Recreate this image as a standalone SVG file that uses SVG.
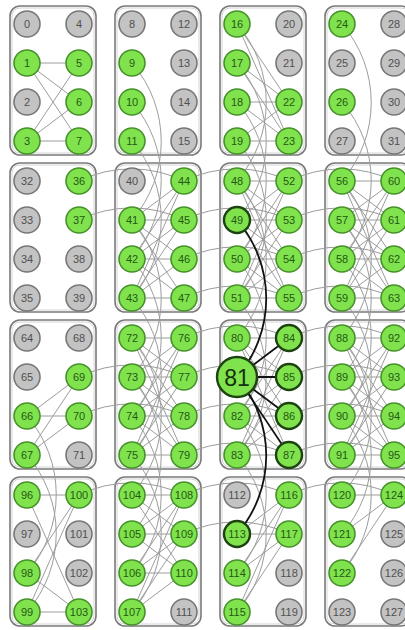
<svg xmlns="http://www.w3.org/2000/svg" width="405" height="630" viewBox="0 0 405 630">
<style>
.cell{fill:none;stroke:#7a7a7a;stroke-width:1.6}
.cell2{fill:none;stroke:#d4d4d4;stroke-width:1}
.e{fill:none;stroke:#9c9c9c;stroke-width:1}
.d{fill:none;stroke:#111;stroke-width:1.8}
.g circle{fill:#80e34e;stroke:#45922a;stroke-width:1.6}
.o circle{fill:#c3c3c3;stroke:#777;stroke-width:1.6}
.h circle{stroke:#1d4410;stroke-width:2.4}
text{font-family:"Liberation Sans",Arial,sans-serif;font-size:11px;text-anchor:middle;dominant-baseline:central}
.g text{fill:#245a12}
.o text{fill:#505050}
.big text{font-size:23px;fill:#14300c}
</style>
<defs>
<rect id="cb" width="86" height="149" rx="10"/>
<rect id="ci" width="82" height="145" rx="8"/>
</defs>
<rect width="405" height="630" fill="#fff"/>
<g id="cells">
<use href="#cb" class="cell" x="10" y="6"/><use href="#cb" class="cell" x="115" y="6"/><use href="#cb" class="cell" x="220" y="6"/><use href="#cb" class="cell" x="325" y="6"/>
<use href="#cb" class="cell" x="10" y="163"/><use href="#cb" class="cell" x="115" y="163"/><use href="#cb" class="cell" x="220" y="163"/><use href="#cb" class="cell" x="325" y="163"/>
<use href="#cb" class="cell" x="10" y="320"/><use href="#cb" class="cell" x="115" y="320"/><use href="#cb" class="cell" x="220" y="320"/><use href="#cb" class="cell" x="325" y="320"/>
<use href="#cb" class="cell" x="10" y="477"/><use href="#cb" class="cell" x="115" y="477"/><use href="#cb" class="cell" x="220" y="477"/><use href="#cb" class="cell" x="325" y="477"/>
<use href="#ci" class="cell2" x="12" y="8"/><use href="#ci" class="cell2" x="117" y="8"/><use href="#ci" class="cell2" x="222" y="8"/><use href="#ci" class="cell2" x="327" y="8"/>
<use href="#ci" class="cell2" x="12" y="165"/><use href="#ci" class="cell2" x="117" y="165"/><use href="#ci" class="cell2" x="222" y="165"/><use href="#ci" class="cell2" x="327" y="165"/>
<use href="#ci" class="cell2" x="12" y="322"/><use href="#ci" class="cell2" x="117" y="322"/><use href="#ci" class="cell2" x="222" y="322"/><use href="#ci" class="cell2" x="327" y="322"/>
<use href="#ci" class="cell2" x="12" y="479"/><use href="#ci" class="cell2" x="117" y="479"/><use href="#ci" class="cell2" x="222" y="479"/><use href="#ci" class="cell2" x="327" y="479"/>
</g>
<g id="connectors">
<path class="e" d="M27 63L79 63"/><path class="e" d="M27 63L79 102"/><path class="e" d="M27 63L79 141"/><path class="e" d="M27 141L79 63"/><path class="e" d="M27 141L79 102"/><path class="e" d="M27 141L79 141"/>
<path class="e" d="M237 24L289 102"/><path class="e" d="M237 24L289 141"/><path class="e" d="M237 63L289 102"/><path class="e" d="M237 63L289 141"/><path class="e" d="M237 102L289 102"/><path class="e" d="M237 102L289 141"/><path class="e" d="M237 141L289 102"/><path class="e" d="M237 141L289 141"/>
<path class="e" d="M132 220L184 181"/><path class="e" d="M132 220L184 220"/><path class="e" d="M132 220L184 259"/><path class="e" d="M132 220L184 298"/><path class="e" d="M132 259L184 181"/><path class="e" d="M132 259L184 220"/><path class="e" d="M132 259L184 259"/><path class="e" d="M132 259L184 298"/><path class="e" d="M132 298L184 181"/><path class="e" d="M132 298L184 220"/><path class="e" d="M132 298L184 259"/><path class="e" d="M132 298L184 298"/>
<path class="e" d="M237 181L289 181"/><path class="e" d="M237 181L289 220"/><path class="e" d="M237 181L289 259"/><path class="e" d="M237 181L289 298"/><path class="e" d="M237 220L289 181"/><path class="e" d="M237 220L289 220"/><path class="e" d="M237 220L289 259"/><path class="e" d="M237 220L289 298"/><path class="e" d="M237 259L289 181"/><path class="e" d="M237 259L289 220"/><path class="e" d="M237 259L289 259"/><path class="e" d="M237 259L289 298"/><path class="e" d="M237 298L289 181"/><path class="e" d="M237 298L289 220"/><path class="e" d="M237 298L289 259"/><path class="e" d="M237 298L289 298"/>
<path class="e" d="M342 181L394 181"/><path class="e" d="M342 181L394 220"/><path class="e" d="M342 181L394 259"/><path class="e" d="M342 181L394 298"/><path class="e" d="M342 220L394 181"/><path class="e" d="M342 220L394 220"/><path class="e" d="M342 220L394 259"/><path class="e" d="M342 220L394 298"/><path class="e" d="M342 259L394 181"/><path class="e" d="M342 259L394 220"/><path class="e" d="M342 259L394 259"/><path class="e" d="M342 259L394 298"/><path class="e" d="M342 298L394 181"/><path class="e" d="M342 298L394 220"/><path class="e" d="M342 298L394 259"/><path class="e" d="M342 298L394 298"/>
<path class="e" d="M27 416L79 377"/><path class="e" d="M27 416L79 416"/><path class="e" d="M27 455L79 377"/><path class="e" d="M27 455L79 416"/>
<path class="e" d="M132 338L184 338"/><path class="e" d="M132 338L184 377"/><path class="e" d="M132 338L184 416"/><path class="e" d="M132 338L184 455"/><path class="e" d="M132 377L184 338"/><path class="e" d="M132 377L184 377"/><path class="e" d="M132 377L184 416"/><path class="e" d="M132 377L184 455"/><path class="e" d="M132 416L184 338"/><path class="e" d="M132 416L184 377"/><path class="e" d="M132 416L184 416"/><path class="e" d="M132 416L184 455"/><path class="e" d="M132 455L184 338"/><path class="e" d="M132 455L184 377"/><path class="e" d="M132 455L184 416"/><path class="e" d="M132 455L184 455"/>
<path class="e" d="M237 338L289 338"/><path class="e" d="M237 338L289 377"/><path class="e" d="M237 338L289 416"/><path class="e" d="M237 338L289 455"/><path class="e" d="M237 416L289 338"/><path class="e" d="M237 416L289 377"/><path class="e" d="M237 416L289 416"/><path class="e" d="M237 416L289 455"/><path class="e" d="M237 455L289 338"/><path class="e" d="M237 455L289 377"/><path class="e" d="M237 455L289 416"/><path class="e" d="M237 455L289 455"/>
<path class="e" d="M342 338L394 338"/><path class="e" d="M342 338L394 377"/><path class="e" d="M342 338L394 416"/><path class="e" d="M342 338L394 455"/><path class="e" d="M342 377L394 338"/><path class="e" d="M342 377L394 377"/><path class="e" d="M342 377L394 416"/><path class="e" d="M342 377L394 455"/><path class="e" d="M342 416L394 338"/><path class="e" d="M342 416L394 377"/><path class="e" d="M342 416L394 416"/><path class="e" d="M342 416L394 455"/><path class="e" d="M342 455L394 338"/><path class="e" d="M342 455L394 377"/><path class="e" d="M342 455L394 416"/><path class="e" d="M342 455L394 455"/>
<path class="e" d="M27 495L79 495"/><path class="e" d="M27 495L79 612"/><path class="e" d="M27 573L79 495"/><path class="e" d="M27 573L79 612"/><path class="e" d="M27 612L79 495"/><path class="e" d="M27 612L79 612"/>
<path class="e" d="M132 495L184 495"/><path class="e" d="M132 495L184 534"/><path class="e" d="M132 495L184 573"/><path class="e" d="M132 534L184 495"/><path class="e" d="M132 534L184 534"/><path class="e" d="M132 534L184 573"/><path class="e" d="M132 573L184 495"/><path class="e" d="M132 573L184 534"/><path class="e" d="M132 573L184 573"/><path class="e" d="M132 612L184 495"/><path class="e" d="M132 612L184 534"/><path class="e" d="M132 612L184 573"/>
<path class="e" d="M237 534L289 495"/><path class="e" d="M237 534L289 534"/><path class="e" d="M237 573L289 495"/><path class="e" d="M237 573L289 534"/><path class="e" d="M237 612L289 495"/><path class="e" d="M237 612L289 534"/>
<path class="e" d="M342 495L394 495"/><path class="e" d="M342 534L394 495"/><path class="e" d="M342 573L394 495"/>
<path class="e" d="M132 63A120 120 0 0 1 132 220"/><path class="e" d="M132 102A120 120 0 0 1 132 259"/><path class="e" d="M132 141A120 120 0 0 1 132 298"/>
<path class="e" d="M237 24A120 120 0 0 1 237 181"/><path class="e" d="M237 63A120 120 0 0 1 237 220"/><path class="e" d="M237 102A120 120 0 0 1 237 259"/><path class="e" d="M237 141A120 120 0 0 1 237 298"/>
<path class="e" d="M342 24A120 120 0 0 1 342 181"/><path class="e" d="M342 102A120 120 0 0 1 342 259"/>
<path class="e" d="M132 220A120 120 0 0 1 132 377"/><path class="e" d="M132 259A120 120 0 0 1 132 416"/><path class="e" d="M132 298A120 120 0 0 1 132 455"/>
<path class="e" d="M237 181A120 120 0 0 1 237 338"/><path class="e" d="M237 259A120 120 0 0 1 237 416"/><path class="e" d="M237 298A120 120 0 0 1 237 455"/>
<path class="e" d="M342 181A120 120 0 0 1 342 338"/><path class="e" d="M342 220A120 120 0 0 1 342 377"/><path class="e" d="M342 259A120 120 0 0 1 342 416"/><path class="e" d="M342 298A120 120 0 0 1 342 455"/>
<path class="e" d="M27 416A120 120 0 0 1 27 573"/><path class="e" d="M27 455A120 120 0 0 1 27 612"/>
<path class="e" d="M132 338A120 120 0 0 1 132 495"/><path class="e" d="M132 377A120 120 0 0 1 132 534"/><path class="e" d="M132 416A120 120 0 0 1 132 573"/><path class="e" d="M132 455A120 120 0 0 1 132 612"/>
<path class="e" d="M237 416A120 120 0 0 1 237 573"/><path class="e" d="M237 455A120 120 0 0 1 237 612"/>
<path class="e" d="M342 338A120 120 0 0 1 342 495"/><path class="e" d="M342 377A120 120 0 0 1 342 534"/><path class="e" d="M342 416A120 120 0 0 1 342 573"/>
<path class="e" d="M79 181A120 120 0 0 1 184 181"/><path class="e" d="M79 220A120 120 0 0 1 184 220"/>
<path class="e" d="M184 181A120 120 0 0 1 289 181"/><path class="e" d="M184 220A120 120 0 0 1 289 220"/><path class="e" d="M184 259A120 120 0 0 1 289 259"/><path class="e" d="M184 298A120 120 0 0 1 289 298"/>
<path class="e" d="M289 181A120 120 0 0 1 394 181"/><path class="e" d="M289 220A120 120 0 0 1 394 220"/><path class="e" d="M289 259A120 120 0 0 1 394 259"/><path class="e" d="M289 298A120 120 0 0 1 394 298"/>
<path class="e" d="M79 377A120 120 0 0 1 184 377"/><path class="e" d="M79 416A120 120 0 0 1 184 416"/>
<path class="e" d="M184 338A120 120 0 0 1 289 338"/><path class="e" d="M184 377A120 120 0 0 1 289 377"/><path class="e" d="M184 416A120 120 0 0 1 289 416"/><path class="e" d="M184 455A120 120 0 0 1 289 455"/>
<path class="e" d="M289 338A120 120 0 0 1 394 338"/><path class="e" d="M289 377A120 120 0 0 1 394 377"/><path class="e" d="M289 416A120 120 0 0 1 394 416"/><path class="e" d="M289 455A120 120 0 0 1 394 455"/>
<path class="e" d="M79 495A120 120 0 0 1 184 495"/>
<path class="e" d="M184 495A120 120 0 0 1 289 495"/><path class="e" d="M184 534A120 120 0 0 1 289 534"/>
<path class="e" d="M289 495A120 120 0 0 1 394 495"/>
<path class="d" d="M237 220A120 120 0 0 1 237 377"/><path class="d" d="M237 377A120 120 0 0 1 237 534"/>
<path class="d" d="M237 377L289 338"/><path class="d" d="M237 377L289 377"/><path class="d" d="M237 377L289 416"/><path class="d" d="M237 377L289 455"/>
</g>
<g id="n0" class="o"><circle cx="27" cy="24" r="13"/><text x="27" y="24">0</text></g>
<g id="n1" class="g"><circle cx="27" cy="63" r="13"/><text x="27" y="63">1</text></g>
<g id="n2" class="o"><circle cx="27" cy="102" r="13"/><text x="27" y="102">2</text></g>
<g id="n3" class="g"><circle cx="27" cy="141" r="13"/><text x="27" y="141">3</text></g>
<g id="n4" class="o"><circle cx="79" cy="24" r="13"/><text x="79" y="24">4</text></g>
<g id="n5" class="g"><circle cx="79" cy="63" r="13"/><text x="79" y="63">5</text></g>
<g id="n6" class="g"><circle cx="79" cy="102" r="13"/><text x="79" y="102">6</text></g>
<g id="n7" class="g"><circle cx="79" cy="141" r="13"/><text x="79" y="141">7</text></g>
<g id="n8" class="o"><circle cx="132" cy="24" r="13"/><text x="132" y="24">8</text></g>
<g id="n9" class="g"><circle cx="132" cy="63" r="13"/><text x="132" y="63">9</text></g>
<g id="n10" class="g"><circle cx="132" cy="102" r="13"/><text x="132" y="102">10</text></g>
<g id="n11" class="g"><circle cx="132" cy="141" r="13"/><text x="132" y="141">11</text></g>
<g id="n12" class="o"><circle cx="184" cy="24" r="13"/><text x="184" y="24">12</text></g>
<g id="n13" class="o"><circle cx="184" cy="63" r="13"/><text x="184" y="63">13</text></g>
<g id="n14" class="o"><circle cx="184" cy="102" r="13"/><text x="184" y="102">14</text></g>
<g id="n15" class="o"><circle cx="184" cy="141" r="13"/><text x="184" y="141">15</text></g>
<g id="n16" class="g"><circle cx="237" cy="24" r="13"/><text x="237" y="24">16</text></g>
<g id="n17" class="g"><circle cx="237" cy="63" r="13"/><text x="237" y="63">17</text></g>
<g id="n18" class="g"><circle cx="237" cy="102" r="13"/><text x="237" y="102">18</text></g>
<g id="n19" class="g"><circle cx="237" cy="141" r="13"/><text x="237" y="141">19</text></g>
<g id="n20" class="o"><circle cx="289" cy="24" r="13"/><text x="289" y="24">20</text></g>
<g id="n21" class="o"><circle cx="289" cy="63" r="13"/><text x="289" y="63">21</text></g>
<g id="n22" class="g"><circle cx="289" cy="102" r="13"/><text x="289" y="102">22</text></g>
<g id="n23" class="g"><circle cx="289" cy="141" r="13"/><text x="289" y="141">23</text></g>
<g id="n24" class="g"><circle cx="342" cy="24" r="13"/><text x="342" y="24">24</text></g>
<g id="n25" class="o"><circle cx="342" cy="63" r="13"/><text x="342" y="63">25</text></g>
<g id="n26" class="g"><circle cx="342" cy="102" r="13"/><text x="342" y="102">26</text></g>
<g id="n27" class="o"><circle cx="342" cy="141" r="13"/><text x="342" y="141">27</text></g>
<g id="n28" class="o"><circle cx="394" cy="24" r="13"/><text x="394" y="24">28</text></g>
<g id="n29" class="o"><circle cx="394" cy="63" r="13"/><text x="394" y="63">29</text></g>
<g id="n30" class="o"><circle cx="394" cy="102" r="13"/><text x="394" y="102">30</text></g>
<g id="n31" class="o"><circle cx="394" cy="141" r="13"/><text x="394" y="141">31</text></g>
<g id="n32" class="o"><circle cx="27" cy="181" r="13"/><text x="27" y="181">32</text></g>
<g id="n33" class="o"><circle cx="27" cy="220" r="13"/><text x="27" y="220">33</text></g>
<g id="n34" class="o"><circle cx="27" cy="259" r="13"/><text x="27" y="259">34</text></g>
<g id="n35" class="o"><circle cx="27" cy="298" r="13"/><text x="27" y="298">35</text></g>
<g id="n36" class="g"><circle cx="79" cy="181" r="13"/><text x="79" y="181">36</text></g>
<g id="n37" class="g"><circle cx="79" cy="220" r="13"/><text x="79" y="220">37</text></g>
<g id="n38" class="o"><circle cx="79" cy="259" r="13"/><text x="79" y="259">38</text></g>
<g id="n39" class="o"><circle cx="79" cy="298" r="13"/><text x="79" y="298">39</text></g>
<g id="n40" class="o"><circle cx="132" cy="181" r="13"/><text x="132" y="181">40</text></g>
<g id="n41" class="g"><circle cx="132" cy="220" r="13"/><text x="132" y="220">41</text></g>
<g id="n42" class="g"><circle cx="132" cy="259" r="13"/><text x="132" y="259">42</text></g>
<g id="n43" class="g"><circle cx="132" cy="298" r="13"/><text x="132" y="298">43</text></g>
<g id="n44" class="g"><circle cx="184" cy="181" r="13"/><text x="184" y="181">44</text></g>
<g id="n45" class="g"><circle cx="184" cy="220" r="13"/><text x="184" y="220">45</text></g>
<g id="n46" class="g"><circle cx="184" cy="259" r="13"/><text x="184" y="259">46</text></g>
<g id="n47" class="g"><circle cx="184" cy="298" r="13"/><text x="184" y="298">47</text></g>
<g id="n48" class="g"><circle cx="237" cy="181" r="13"/><text x="237" y="181">48</text></g>
<g id="n49" class="g h"><circle cx="237" cy="220" r="13"/><text x="237" y="220">49</text></g>
<g id="n50" class="g"><circle cx="237" cy="259" r="13"/><text x="237" y="259">50</text></g>
<g id="n51" class="g"><circle cx="237" cy="298" r="13"/><text x="237" y="298">51</text></g>
<g id="n52" class="g"><circle cx="289" cy="181" r="13"/><text x="289" y="181">52</text></g>
<g id="n53" class="g"><circle cx="289" cy="220" r="13"/><text x="289" y="220">53</text></g>
<g id="n54" class="g"><circle cx="289" cy="259" r="13"/><text x="289" y="259">54</text></g>
<g id="n55" class="g"><circle cx="289" cy="298" r="13"/><text x="289" y="298">55</text></g>
<g id="n56" class="g"><circle cx="342" cy="181" r="13"/><text x="342" y="181">56</text></g>
<g id="n57" class="g"><circle cx="342" cy="220" r="13"/><text x="342" y="220">57</text></g>
<g id="n58" class="g"><circle cx="342" cy="259" r="13"/><text x="342" y="259">58</text></g>
<g id="n59" class="g"><circle cx="342" cy="298" r="13"/><text x="342" y="298">59</text></g>
<g id="n60" class="g"><circle cx="394" cy="181" r="13"/><text x="394" y="181">60</text></g>
<g id="n61" class="g"><circle cx="394" cy="220" r="13"/><text x="394" y="220">61</text></g>
<g id="n62" class="g"><circle cx="394" cy="259" r="13"/><text x="394" y="259">62</text></g>
<g id="n63" class="g"><circle cx="394" cy="298" r="13"/><text x="394" y="298">63</text></g>
<g id="n64" class="o"><circle cx="27" cy="338" r="13"/><text x="27" y="338">64</text></g>
<g id="n65" class="o"><circle cx="27" cy="377" r="13"/><text x="27" y="377">65</text></g>
<g id="n66" class="g"><circle cx="27" cy="416" r="13"/><text x="27" y="416">66</text></g>
<g id="n67" class="g"><circle cx="27" cy="455" r="13"/><text x="27" y="455">67</text></g>
<g id="n68" class="o"><circle cx="79" cy="338" r="13"/><text x="79" y="338">68</text></g>
<g id="n69" class="g"><circle cx="79" cy="377" r="13"/><text x="79" y="377">69</text></g>
<g id="n70" class="g"><circle cx="79" cy="416" r="13"/><text x="79" y="416">70</text></g>
<g id="n71" class="o"><circle cx="79" cy="455" r="13"/><text x="79" y="455">71</text></g>
<g id="n72" class="g"><circle cx="132" cy="338" r="13"/><text x="132" y="338">72</text></g>
<g id="n73" class="g"><circle cx="132" cy="377" r="13"/><text x="132" y="377">73</text></g>
<g id="n74" class="g"><circle cx="132" cy="416" r="13"/><text x="132" y="416">74</text></g>
<g id="n75" class="g"><circle cx="132" cy="455" r="13"/><text x="132" y="455">75</text></g>
<g id="n76" class="g"><circle cx="184" cy="338" r="13"/><text x="184" y="338">76</text></g>
<g id="n77" class="g"><circle cx="184" cy="377" r="13"/><text x="184" y="377">77</text></g>
<g id="n78" class="g"><circle cx="184" cy="416" r="13"/><text x="184" y="416">78</text></g>
<g id="n79" class="g"><circle cx="184" cy="455" r="13"/><text x="184" y="455">79</text></g>
<g id="n80" class="g"><circle cx="237" cy="338" r="13"/><text x="237" y="338">80</text></g>
<g id="n82" class="g"><circle cx="237" cy="416" r="13"/><text x="237" y="416">82</text></g>
<g id="n83" class="g"><circle cx="237" cy="455" r="13"/><text x="237" y="455">83</text></g>
<g id="n84" class="g h"><circle cx="289" cy="338" r="13"/><text x="289" y="338">84</text></g>
<g id="n85" class="g h"><circle cx="289" cy="377" r="13"/><text x="289" y="377">85</text></g>
<g id="n86" class="g h"><circle cx="289" cy="416" r="13"/><text x="289" y="416">86</text></g>
<g id="n87" class="g h"><circle cx="289" cy="455" r="13"/><text x="289" y="455">87</text></g>
<g id="n88" class="g"><circle cx="342" cy="338" r="13"/><text x="342" y="338">88</text></g>
<g id="n89" class="g"><circle cx="342" cy="377" r="13"/><text x="342" y="377">89</text></g>
<g id="n90" class="g"><circle cx="342" cy="416" r="13"/><text x="342" y="416">90</text></g>
<g id="n91" class="g"><circle cx="342" cy="455" r="13"/><text x="342" y="455">91</text></g>
<g id="n92" class="g"><circle cx="394" cy="338" r="13"/><text x="394" y="338">92</text></g>
<g id="n93" class="g"><circle cx="394" cy="377" r="13"/><text x="394" y="377">93</text></g>
<g id="n94" class="g"><circle cx="394" cy="416" r="13"/><text x="394" y="416">94</text></g>
<g id="n95" class="g"><circle cx="394" cy="455" r="13"/><text x="394" y="455">95</text></g>
<g id="n96" class="g"><circle cx="27" cy="495" r="13"/><text x="27" y="495">96</text></g>
<g id="n97" class="o"><circle cx="27" cy="534" r="13"/><text x="27" y="534">97</text></g>
<g id="n98" class="g"><circle cx="27" cy="573" r="13"/><text x="27" y="573">98</text></g>
<g id="n99" class="g"><circle cx="27" cy="612" r="13"/><text x="27" y="612">99</text></g>
<g id="n100" class="g"><circle cx="79" cy="495" r="13"/><text x="79" y="495">100</text></g>
<g id="n101" class="o"><circle cx="79" cy="534" r="13"/><text x="79" y="534">101</text></g>
<g id="n102" class="o"><circle cx="79" cy="573" r="13"/><text x="79" y="573">102</text></g>
<g id="n103" class="g"><circle cx="79" cy="612" r="13"/><text x="79" y="612">103</text></g>
<g id="n104" class="g"><circle cx="132" cy="495" r="13"/><text x="132" y="495">104</text></g>
<g id="n105" class="g"><circle cx="132" cy="534" r="13"/><text x="132" y="534">105</text></g>
<g id="n106" class="g"><circle cx="132" cy="573" r="13"/><text x="132" y="573">106</text></g>
<g id="n107" class="g"><circle cx="132" cy="612" r="13"/><text x="132" y="612">107</text></g>
<g id="n108" class="g"><circle cx="184" cy="495" r="13"/><text x="184" y="495">108</text></g>
<g id="n109" class="g"><circle cx="184" cy="534" r="13"/><text x="184" y="534">109</text></g>
<g id="n110" class="g"><circle cx="184" cy="573" r="13"/><text x="184" y="573">110</text></g>
<g id="n111" class="o"><circle cx="184" cy="612" r="13"/><text x="184" y="612">111</text></g>
<g id="n112" class="o"><circle cx="237" cy="495" r="13"/><text x="237" y="495">112</text></g>
<g id="n113" class="g h"><circle cx="237" cy="534" r="13"/><text x="237" y="534">113</text></g>
<g id="n114" class="g"><circle cx="237" cy="573" r="13"/><text x="237" y="573">114</text></g>
<g id="n115" class="g"><circle cx="237" cy="612" r="13"/><text x="237" y="612">115</text></g>
<g id="n116" class="g"><circle cx="289" cy="495" r="13"/><text x="289" y="495">116</text></g>
<g id="n117" class="g"><circle cx="289" cy="534" r="13"/><text x="289" y="534">117</text></g>
<g id="n118" class="o"><circle cx="289" cy="573" r="13"/><text x="289" y="573">118</text></g>
<g id="n119" class="o"><circle cx="289" cy="612" r="13"/><text x="289" y="612">119</text></g>
<g id="n120" class="g"><circle cx="342" cy="495" r="13"/><text x="342" y="495">120</text></g>
<g id="n121" class="g"><circle cx="342" cy="534" r="13"/><text x="342" y="534">121</text></g>
<g id="n122" class="g"><circle cx="342" cy="573" r="13"/><text x="342" y="573">122</text></g>
<g id="n123" class="o"><circle cx="342" cy="612" r="13"/><text x="342" y="612">123</text></g>
<g id="n124" class="g"><circle cx="394" cy="495" r="13"/><text x="394" y="495">124</text></g>
<g id="n125" class="o"><circle cx="394" cy="534" r="13"/><text x="394" y="534">125</text></g>
<g id="n126" class="o"><circle cx="394" cy="573" r="13"/><text x="394" y="573">126</text></g>
<g id="n127" class="o"><circle cx="394" cy="612" r="13"/><text x="394" y="612">127</text></g>
<g id="n81" class="g h big"><circle cx="237" cy="377" r="20"/><text x="237" y="378">81</text></g>
</svg>
